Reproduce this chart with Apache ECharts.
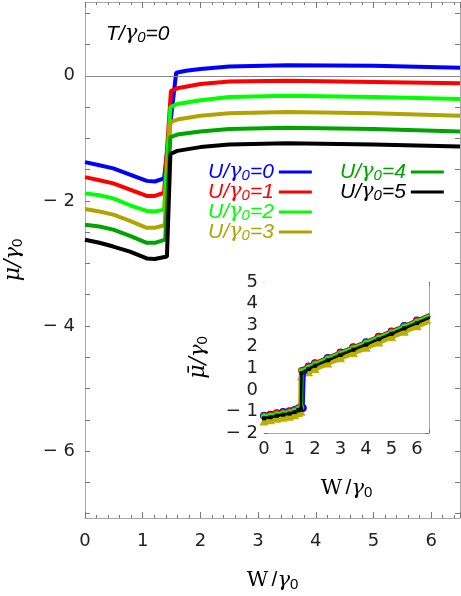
<!DOCTYPE html>
<html>
<head>
<meta charset="utf-8">
<script src="https://cdn.jsdelivr.net/npm/echarts@6/dist/echarts.min.js"></script>
<style>
  html, body { margin: 0; padding: 0; background: #fff; }
  #chart { width: 461px; height: 596px; }
</style>
</head>
<body>
<div id="chart"></div>
<script>
// main panel: mu/gamma0 vs W/gamma0, one curve per U/gamma0
const uValues = [0, 1, 2, 3, 4, 5]
const uColors = ['#0000ff', '#ff0000', '#00ff00', '#b0a400', '#00a400', '#000000']

const wU0 = [0, 0.25, 0.49, 0.78, 1.07, 1.21, 1.37, 1.58, 1.75, 2.0, 2.5, 3.5, 5.0, 6.5]
const muU0 = [-1.38, -1.43, -1.48, -1.58, -1.68, -1.69, -1.64, 0.05, 0.08, 0.11, 0.15, 0.17, 0.16, 0.13]
const wU1 = [0, 0.25, 0.49, 0.78, 1.07, 1.21, 1.37, 1.49, 1.6, 2.0, 2.5, 3.5, 5.0, 6.5]
const muU1 = [-1.62, -1.67, -1.72, -1.82, -1.92, -1.92, -1.87, -0.24, -0.2, -0.13, -0.09, -0.08, -0.1, -0.12]
const wU2 = [0, 0.25, 0.49, 0.78, 1.07, 1.21, 1.37, 1.48, 1.6, 2.0, 2.5, 3.5, 5.0, 6.5]
const muU2 = [-1.88, -1.91, -1.96, -2.07, -2.16, -2.17, -2.14, -0.5, -0.45, -0.39, -0.34, -0.32, -0.34, -0.37]
const wU3 = [0, 0.25, 0.49, 0.78, 1.07, 1.21, 1.38, 1.48, 1.6, 2.0, 2.5, 3.5, 5.0, 6.5]
const muU3 = [-2.13, -2.17, -2.22, -2.32, -2.43, -2.43, -2.39, -0.74, -0.7, -0.64, -0.6, -0.58, -0.6, -0.64]
const wU4 = [0, 0.25, 0.49, 0.78, 1.07, 1.21, 1.39, 1.48, 1.6, 2.0, 2.5, 3.5, 5.0, 6.5]
const muU4 = [-2.38, -2.41, -2.46, -2.56, -2.67, -2.67, -2.62, -0.98, -0.94, -0.89, -0.85, -0.83, -0.85, -0.89]
const wU5 = [0, 0.25, 0.49, 0.78, 1.07, 1.21, 1.42, 1.48, 1.6, 2.0, 2.5, 3.5, 5.0, 6.5]
const muU5 = [-2.62, -2.67, -2.73, -2.81, -2.92, -2.93, -2.89, -1.25, -1.2, -1.14, -1.1, -1.08, -1.1, -1.13]

const mainW = [wU0, wU1, wU2, wU3, wU4, wU5]
const mainMu = [muU0, muU1, muU2, muU3, muU4, muU5]

// inset: mu-bar/gamma0 vs W/gamma0
const insetW = [0, 0.25, 0.5, 0.75, 1.0, 1.2, 1.35, 1.45, 1.47, 1.75, 2.0, 2.5, 3.0, 3.5, 4.0, 4.5, 5.0, 5.5, 6.0, 6.5]
const insetWBlue = [0, 0.25, 0.5, 0.75, 1.0, 1.2, 1.35, 1.52, 1.56, 1.75, 2.0, 2.5, 3.0, 3.5, 4.0, 4.5, 5.0, 5.5, 6.0, 6.5]
const insetOlive = [-1.44, -1.39, -1.32, -1.27, -1.22, -1.15, -1.05, -0.99, 0.64, 0.84, 0.99, 1.24, 1.49, 1.73, 1.97, 2.22, 2.47, 2.72, 2.97, 3.22]
const insetBlue = [-1.2, -1.15, -1.08, -1.03, -0.99, -0.93, -0.86, -0.84, 0.9, 1.08, 1.23, 1.48, 1.73, 1.97, 2.21, 2.46, 2.71, 2.96, 3.21, 3.47]
const insetRed = [-1.2, -1.16, -1.09, -1.04, -1.0, -0.93, -0.84, -0.78, 0.9, 1.08, 1.23, 1.48, 1.73, 1.97, 2.21, 2.46, 2.71, 2.96, 3.21, 3.47]
const insetGreen = [-1.24, -1.2, -1.13, -1.08, -1.04, -0.97, -0.88, -0.82, 0.86, 1.04, 1.19, 1.44, 1.69, 1.93, 2.17, 2.42, 2.67, 2.92, 3.17, 3.43]
const insetDarkGreen = [-1.28, -1.24, -1.17, -1.12, -1.07, -1.0, -0.9, -0.85, 0.82, 1.0, 1.15, 1.4, 1.65, 1.89, 2.13, 2.38, 2.63, 2.88, 3.13, 3.39]
const insetBlack = [-1.32, -1.27, -1.2, -1.15, -1.1, -1.03, -0.93, -0.87, 0.78, 0.97, 1.12, 1.37, 1.62, 1.86, 2.1, 2.35, 2.6, 2.85, 3.1, 3.35]

// tick positions
const mainXLabels = [0, 1, 2, 3, 4, 5, 6]
const mainYTicks = [-7, -6.5, -6, -5.5, -5, -4.5, -4, -3.5, -3, -2.5, -2, -1.5, -1, -0.5, 0, 0.5, 1]
const mainYLabels = [-6, -4, -2, 0]
const insetYLabels = [-2, -1, 0, 1, 2, 3, 4, 5]

const zip = (xs, ys) => xs.map((x, i) => [x, ys[i]])
const minus = v => (v < 0 ? '\u2212 ' + Math.abs(v) : String(v))

const FONT = 'Liberation Sans'
const axisGray = '#a8a8a8'
const tickGray = '#777'

const subRich = {
  a: { fontFamily: FONT, fontStyle: 'italic', fontSize: 21, lineHeight: 19 },
  g: { fontFamily: 'DejaVu Serif', fontStyle: 'italic', fontSize: 21, lineHeight: 19 },
  s: { fontFamily: FONT, fontStyle: 'italic', fontSize: 15, lineHeight: 19, padding: [7, 0, 0, 0] },
}

const nameRich = {
  w: { fontFamily: 'DejaVu Serif', fontSize: 21, color: '#000' },
  a: { fontFamily: FONT, fontSize: 21, color: '#000' },
  m: { fontFamily: 'DejaVu Serif', fontStyle: 'italic', fontSize: 22, color: '#000' },
  g: { fontFamily: 'DejaVu Serif', fontStyle: 'italic', fontSize: 21, color: '#000' },
  s: { fontFamily: FONT, fontSize: 15, padding: [8, 0, 0, 0], color: '#000' },
}

const chart = echarts.init(document.getElementById('chart'))

const mainSeries = uValues.map((u, i) => ({
  name: 'U' + u,
  type: 'line',
  xAxisIndex: 0,
  yAxisIndex: 0,
  symbol: 'none',
  lineStyle: { color: uColors[i], width: 4 },
  itemStyle: { color: uColors[i] },
  data: zip(mainW[i], mainMu[i]),
  z: 3 + i,
}))
mainSeries[0].markLine = {
  silent: true,
  symbol: 'none',
  label: { show: false },
  lineStyle: { color: '#888', width: 1, type: 'solid' },
  data: [{ yAxis: 0 }],
}

const insetDefs = [
  { name: 'io', w: insetW, v: insetOlive, color: '#b8b000', sym: 'triangle', size: 9, width: 6 },
  { name: 'ib', w: insetWBlue, v: insetBlue, color: '#0000ff', sym: 'circle', size: 8, width: 4 },
  { name: 'ir', w: insetW, v: insetRed, color: '#ff0000', sym: 'circle', size: 7, width: 4 },
  { name: 'ig', w: insetW, v: insetGreen, color: '#00ff00', sym: 'circle', size: 6, width: 4 },
  { name: 'id', w: insetW, v: insetDarkGreen, color: '#008800', sym: 'none', size: 0, width: 2 },
  { name: 'ik', w: insetW, v: insetBlack, color: '#000000', sym: 'rect', size: 4, width: 2.5 },
]
const insetSeries = insetDefs.map((d, i) => ({
  name: d.name,
  type: 'line',
  xAxisIndex: 2,
  yAxisIndex: 2,
  symbol: d.sym,
  symbolSize: d.size,
  lineStyle: { color: d.color, width: d.width },
  itemStyle: { color: d.color },
  data: zip(d.w, d.v),
  z: 20 + i,
}))
insetSeries[0].markLine = {
  silent: true,
  symbol: 'none',
  label: { show: false },
  lineStyle: { color: '#888', width: 1, type: 'solid' },
  data: [{ yAxis: 0 }],
}

const legendCommon = {
  orient: 'vertical',
  align: 'right',
  icon: 'rect',
  itemWidth: 33,
  itemHeight: 3,
  itemGap: -2,
  textStyle: { fontSize: 21, lineHeight: 19, rich: subRich },
  formatter: name => '{a|U/}{g|γ}{s|0}{a|=' + name.slice(1) + '}',
  selectedMode: false,
}

function frameAxis(extra) {
  return Object.assign({
    type: 'value',
    axisLine: { show: true, onZero: false, lineStyle: { color: axisGray } },
    axisLabel: { show: false },
    splitLine: { show: false },
  }, extra)
}

const option = {
  animation: false,
  backgroundColor: '#fff',
  grid: [
    { left: 85, top: 2, width: 375, height: 516, outerBoundsMode: 'none', containLabel: false },
    { left: 264, top: 282, width: 165, height: 151, outerBoundsMode: 'none', containLabel: false, show: true, backgroundColor: '#fff', borderWidth: 0, z: 10 },
  ],
  legend: [
    Object.assign({}, legendCommon, {
      left: 203, top: 156,
      data: [0, 1, 2, 3].map(i => ({ name: 'U' + uValues[i], textStyle: { color: uColors[i] } })),
    }),
    Object.assign({}, legendCommon, {
      left: 335, top: 156,
      data: [4, 5].map(i => ({ name: 'U' + uValues[i], textStyle: { color: uColors[i] } })),
    }),
  ],
  graphic: [
    {
      type: 'text', left: 106, top: 23,
      style: { text: '{a|T/}{g|γ}{s|0}{a|=0}', fill: '#000', rich: subRich },
    },
  ],
  xAxis: [
    frameAxis({
      gridIndex: 0, min: 0, max: 6.5, interval: 1,
      name: '{w|W} {a|/}{g|γ}{s|0}', nameLocation: 'middle', nameGap: 51,
      nameTextStyle: { rich: nameRich },
      axisTick: { inside: true, length: 6, lineStyle: { color: tickGray } },
      minorTick: { show: true, splitNumber: 5, length: 3, lineStyle: { color: tickGray } },
      axisLabel: { color: '#222', fontFamily: 'DejaVu Sans', fontSize: 18, margin: 14, customValues: mainXLabels },
    }),
    frameAxis({
      gridIndex: 0, position: 'top', min: 0, max: 6.5, interval: 1,
      axisTick: { inside: true, length: 6, lineStyle: { color: tickGray } },
      minorTick: { show: true, splitNumber: 5, length: 3, lineStyle: { color: tickGray } },
    }),
    frameAxis({
      gridIndex: 1, min: 0, max: 6.47, interval: 1,
      name: '{w|W} {a|/}{g|γ}{s|0}', nameLocation: 'middle', nameGap: 44,
      nameTextStyle: { rich: nameRich },
      axisTick: { inside: true, length: 4, lineStyle: { color: tickGray } },
      minorTick: { show: true, splitNumber: 5, length: 2, lineStyle: { color: tickGray } },
      axisLabel: { color: '#222', fontFamily: 'DejaVu Sans', fontSize: 18, margin: 7 },
    }),
    frameAxis({
      gridIndex: 1, position: 'top', min: 0, max: 6.47, interval: 1,
      axisTick: { inside: true, length: 4, lineStyle: { color: tickGray } },
      minorTick: { show: true, splitNumber: 5, length: 2, lineStyle: { color: tickGray } },
    }),
  ],
  yAxis: [
    frameAxis({
      gridIndex: 0, min: -7.07, max: 1.18,
      name: '{m|μ/}{g|γ}{s|0}', nameLocation: 'middle', nameGap: 60, nameRotate: 90,
      nameTextStyle: { rich: nameRich },
      axisTick: { inside: true, length: 5, customValues: mainYTicks, lineStyle: { color: tickGray } },
      axisLabel: { color: '#222', fontFamily: 'DejaVu Sans', fontSize: 18, margin: 10, customValues: mainYLabels, formatter: minus },
    }),
    frameAxis({
      gridIndex: 0, position: 'right', min: -7.07, max: 1.18,
      axisTick: { inside: true, length: 5, customValues: mainYTicks, lineStyle: { color: tickGray } },
    }),
    frameAxis({
      gridIndex: 1, min: -2, max: 5, interval: 1,
      name: '{m|μ̄/}{g|γ}{s|0}', nameLocation: 'middle', nameGap: 54, nameRotate: 90,
      nameTextStyle: { rich: nameRich },
      axisTick: { inside: true, length: 4, lineStyle: { color: tickGray } },
      minorTick: { show: true, splitNumber: 4, length: 2, lineStyle: { color: tickGray } },
      axisLabel: { color: '#222', fontFamily: 'DejaVu Sans', fontSize: 18, margin: 6, customValues: insetYLabels, formatter: minus },
    }),
    frameAxis({
      gridIndex: 1, position: 'right', min: -2, max: 5, interval: 1,
      axisTick: { inside: true, length: 4, lineStyle: { color: tickGray } },
      minorTick: { show: true, splitNumber: 4, length: 2, lineStyle: { color: tickGray } },
    }),
  ],
  series: mainSeries.concat(insetSeries),
}

chart.setOption(option)
</script>
</body>
</html>
